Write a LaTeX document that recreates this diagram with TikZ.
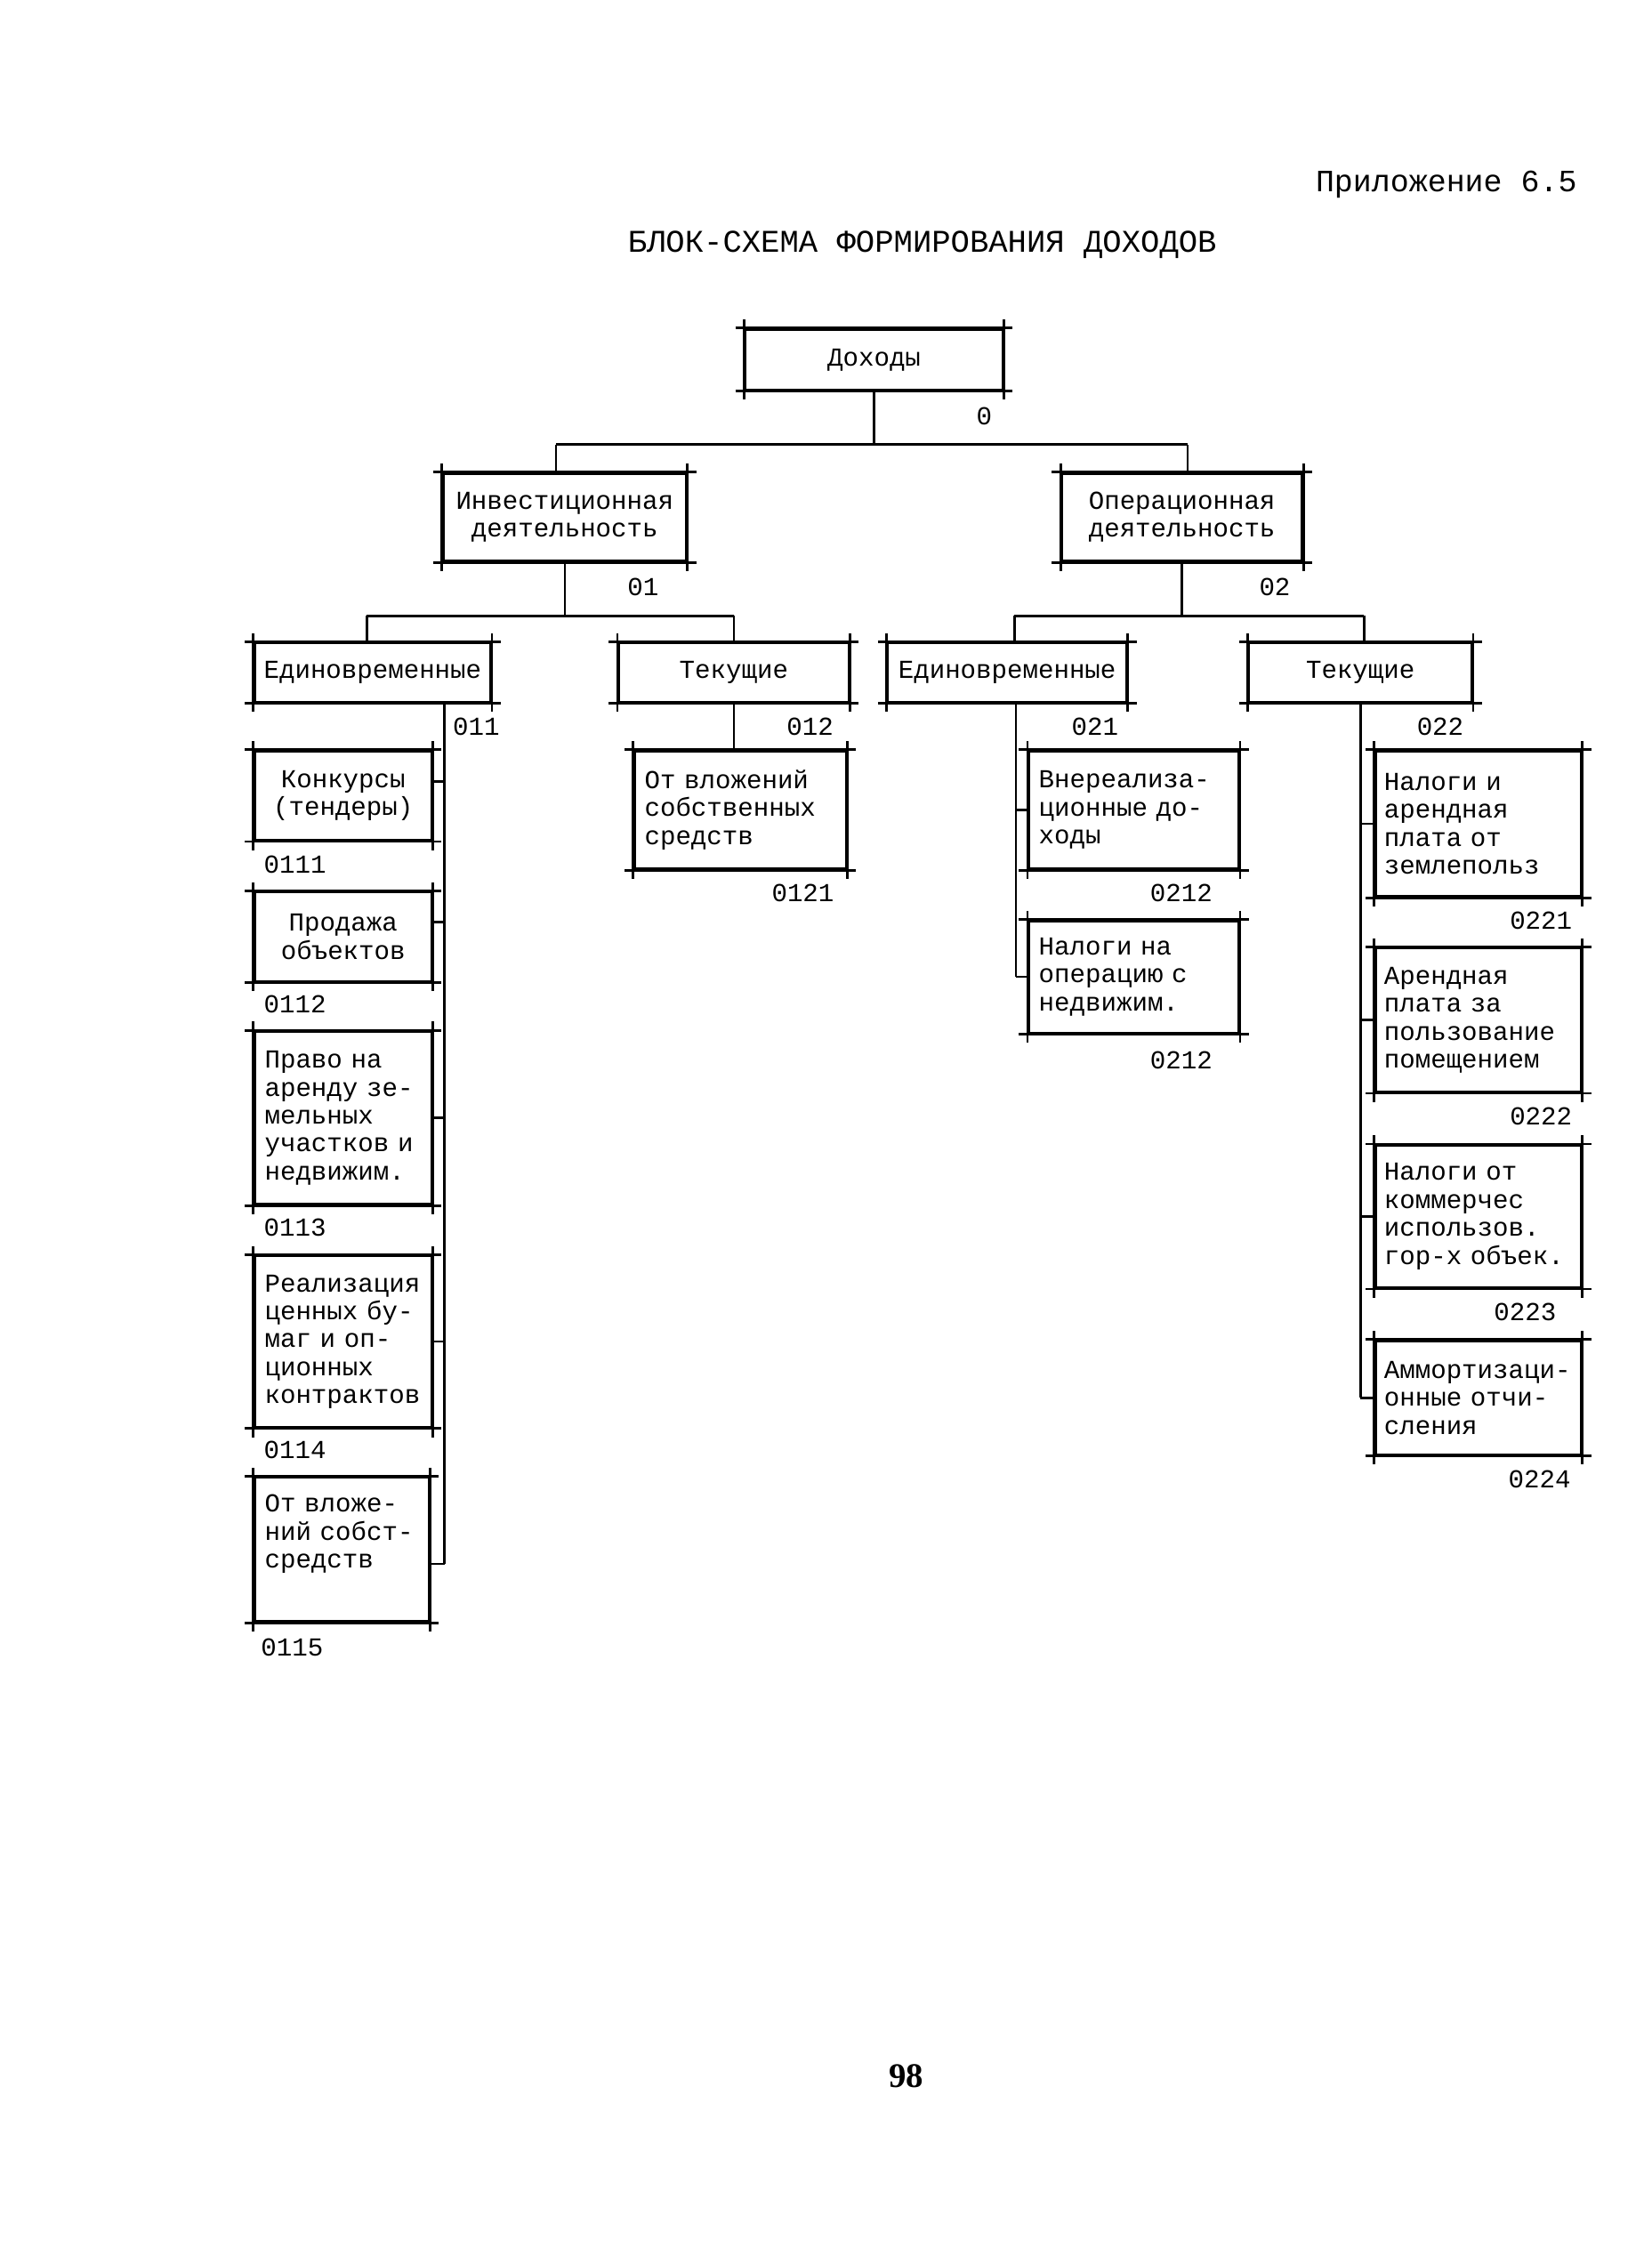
\documentclass[tikz,border=0pt]{standalone}
\usepackage{fontspec}
\setmainfont{Liberation Serif}
\setmonofont{Liberation Mono}
\usetikzlibrary{positioning,calc}

\tikzset{
  box/.style={draw, line width=0.9pt, font={\ttfamily\fontsize{9}{9.7}\selectfont},
    inner xsep=3.5pt, inner ysep=2pt},
  hdr/.style={box, align=center, inner xsep=3pt},
  leaf/.style={box, align=left},
  code/.style={font={\ttfamily\fontsize{9}{9.7}\selectfont}, inner sep=0pt},
  link/.style={line width=0.8pt},
  rim/.style={line width=0.9pt}
}

\begin{document}
\begin{tikzpicture}[x=0.5pt,y=-0.5pt]
\useasboundingbox (0,0) rectangle (1148,1568);

% heading
\node[anchor=east, font={\ttfamily\fontsize{10.8}{12}\selectfont}] (app) at (1103,128) {Приложение 6.5};
\node[font={\ttfamily\fontsize{11}{13}\selectfont}] (title) at (641,170) {БЛОК-СХЕМА ФОРМИРОВАНИЯ ДОХОДОВ};

% top levels
\node[hdr, minimum width=89.5pt, minimum height=21pt] (doh) at (607.5,250) {Доходы};
\node[hdr, minimum width=84.5pt, minimum height=30.5pt] (inv) at (392.5,359.5) {Инвестиционная\\деятельность};
\node[hdr, minimum width=83.5pt, minimum height=30.5pt] (oper) at (821.5,359.5) {Операционная\\деятельность};
\node[hdr, minimum width=82pt, minimum height=20.5pt] (inv1) at (259,467.5) {Единовременные};
\node[hdr, minimum width=80pt, minimum height=20.5pt] (inv2) at (510,467.5) {Текущие};
\node[hdr, minimum width=83pt, minimum height=20.5pt] (op1) at (700,467.5) {Единовременные};
\node[hdr, minimum width=77.5pt, minimum height=20.5pt] (op2) at (945.5,467.5) {Текущие};

% 011
\node[leaf, text width=54.5pt, minimum height=31pt, align=center] (l1) at (238.5,553) {Конкурсы\\(тендеры)};
\node[leaf, text width=54.5pt, minimum height=31pt, align=center] (l2) at (238.5,651) {Продажа\\объектов};
\node[leaf, text width=54.5pt, minimum height=60pt] (l3) at (238.5,777) {Право на\\аренду зе-\\мельных\\участков и\\недвижим.};
\node[leaf, text width=54.5pt, minimum height=59.5pt] (l4) at (238.5,932.5) {Реализация\\ценных бу-\\маг и оп-\\ционных\\контрактов};
\node[leaf, text width=53.5pt, minimum height=50pt] (l5) at (237.5,1077) {От вложе-\\ний собст-\\средств\\\strut};

% 012
\node[leaf, text width=66.5pt, minimum height=41pt] (m1) at (514.5,563) {От вложений\\собственных\\средств};

% 021
\node[leaf, text width=66pt, minimum height=41pt] (r1) at (788,563) {Внереализа-\\ционные до-\\ходы};
\node[leaf, text width=66pt, minimum height=39pt] (r2) at (788,679) {Налоги на\\операцию с\\недвижим.};

% 022
\node[leaf, inner xsep=3pt, text width=65.5pt, minimum height=50.5pt] (s1) at (1027.5,572.5) {Налоги и\\арендная\\плата от\\землепольз};
\node[leaf, inner xsep=3pt, text width=65.5pt, minimum height=50pt] (s2) at (1027.5,709) {Арендная\\плата за\\пользование\\помещением};
\node[leaf, inner xsep=3pt, text width=65.5pt, minimum height=49.5pt] (s3) at (1027.5,845.5) {Налоги от\\коммерчес\\использов.\\гор-х объек.};
\node[leaf, inner xsep=3pt, text width=65.5pt, minimum height=39.5pt] (s4) at (1027.5,971.5) {Аммортизаци-\\онные отчи-\\сления};

% corner overshoot of the ruled boxes
\foreach \n in {doh,inv,oper,inv1,inv2,op1,op2,l1,l2,l3,l4,l5,m1,r1,r2,s1,s2,s3,s4} {
  \draw[rim] ([xshift=-3pt]\n.north west) -- ([xshift=3pt]\n.north east);
  \draw[rim] ([xshift=-3pt]\n.south west) -- ([xshift=3pt]\n.south east);
  \draw[rim] ([yshift=3pt]\n.north west) -- ([yshift=-3pt]\n.south west);
  \draw[rim] ([yshift=3pt]\n.north east) -- ([yshift=-3pt]\n.south east);
}

% connectors
\coordinate (b0) at (607,309);
\coordinate (b1) at (388,428);
\coordinate (b2) at (826,428);
\coordinate (dinv) at ([xshift=-3pt]inv.north);
\coordinate (doper) at ([xshift=2pt]oper.north);
\coordinate (dinv1) at ([xshift=-2pt]inv1.north);
\coordinate (dop1) at ([xshift=2.5pt]op1.north);
\coordinate (dop2) at ([xshift=1.25pt]op2.north);
\draw[link] (doh.south) -- (doh.south |- b0);
\draw[link] (dinv |- b0) -- (doper |- b0);
\draw[link] (dinv |- b0) -- (dinv);
\draw[link] (doper |- b0) -- (doper);
\draw[link] (inv.south) -- (inv.south |- b1);
\draw[link] (dinv1 |- b1) -- (inv2.north |- b1);
\draw[link] (dinv1 |- b1) -- (dinv1);
\draw[link] (inv2.north |- b1) -- (inv2.north);
\draw[link] (oper.south) -- (oper.south |- b2);
\draw[link] (dop1 |- b2) -- (dop2 |- b2);
\draw[link] (dop1 |- b2) -- (dop1);
\draw[link] (dop2 |- b2) -- (dop2);

\coordinate (t011) at ([xshift=25pt]inv1.south);
\foreach \n/\dy in {l1/5,l2/5,l3/0,l4/0,l5/-5}
  \coordinate (j\n) at ([yshift=\dy pt]\n.east);
\draw[link] (t011) -- (t011 |- jl5);
\foreach \n in {l1,l2,l3,l4,l5}
  \draw[link] (j\n) -- (j\n -| t011);

\draw[link] (inv2.south) -- (inv2.south |- m1.north);

\coordinate (t021) at ([xshift=3pt]op1.south);
\draw[link] (t021) -- (t021 |- r2.west);
\foreach \n in {r1,r2}
  \draw[link] (\n.west) -- (\n.west -| t021);

\draw[link] (op2.south) -- (op2.south |- s4.west);
\foreach \n in {s1,s2,s3,s4}
  \draw[link] (\n.west) -- (\n.west -| op2.south);

% codes
\node[code] (k0) at (684,289) {0};
\node[code] (k01) at (447,408) {01};
\node[code] (k02) at (886,408) {02};
\node[code] (k011) at (331,505) {011};
\node[code] (k012) at (563,505) {012};
\node[code] (k021) at (761,505) {021};
\node[code] (k022) at (1001,505) {022};
\node[code] (k0111) at (205,601) {0111};
\node[code] (k0112) at (205,698) {0112};
\node[code] (k0113) at (205,853) {0113};
\node[code] (k0114) at (205,1008) {0114};
\node[code] (k0115) at (203,1145) {0115};
\node[code] (k0121) at (558,621) {0121};
\node[code] (k0212a) at (821,621) {0212};
\node[code] (k0212b) at (821,737) {0212};
\node[code] (k0221) at (1071,640) {0221};
\node[code] (k0222) at (1071,776) {0222};
\node[code] (k0223) at (1060,912) {0223};
\node[code] (k0224) at (1070,1028) {0224};

% page number
\node[font={\bfseries\fontsize{12}{14}\selectfont}] (pg) at (630,1443) {98};
\end{tikzpicture}
\end{document}
